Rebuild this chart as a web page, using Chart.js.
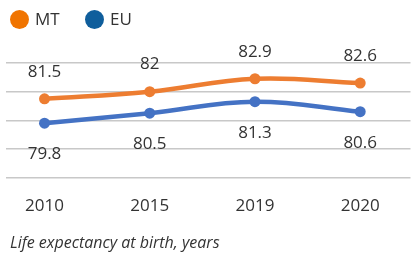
<!DOCTYPE html>
<html>
<head>
<meta charset="utf-8">
<script src="https://cdn.jsdelivr.net/npm/chart.js@4/dist/chart.umd.min.js"></script>
<style>
  body { margin: 0; background: #fff; font-family: "Open Sans", sans-serif; color: #333; }
  #wrap { position: relative; width: 416px; height: 260px; }
  .leg { position: absolute; top: 9px; font-size: 17px; line-height: 20px; display: flex; align-items: center; }
  .leg span.dot { width: 19px; height: 19px; border-radius: 50%; display: inline-block; margin-right: 6px; }
  #caption { position: absolute; left: 10px; top: 231px; font-size: 16px; font-style: italic; line-height: 22px; }
</style>
</head>
<body>
<div id="wrap">
  <canvas id="lifeChart"></canvas>
  <div class="leg" style="left:10px"><span class="dot" style="background:#f07400"></span>MT</div>
  <div class="leg" style="left:85px"><span class="dot" style="background:#0f5e9c"></span>EU</div>
  <div id="caption">Life expectancy at birth, years</div>
</div>
<script>
const years = ['2010', '2015', '2019', '2020'];
const mtValues = [81.5, 82, 82.9, 82.6];
const euValues = [79.8, 80.5, 81.3, 80.6];

const ctx = document.getElementById('lifeChart').getContext('2d');

// подписи значений над/под точками
const valueLabels = {
    id: 'valueLabels',
    afterDatasetsDraw(chart, args, opts) {
        const c = chart.ctx;
        c.save();
        c.font = '17px "Open Sans"';
        c.fillStyle = '#333';
        c.textAlign = 'center';
        c.textBaseline = 'middle';
        chart.data.datasets.forEach((ds, i) => {
            const meta = chart.getDatasetMeta(i);
            meta.data.forEach((pt, j) => {
                c.fillText(String(ds.data[j].y), pt.x, pt.y + opts.offsets[i]);
            });
        });
        c.restore();
    }
};

new Chart(ctx, {
    type: 'line',
    data: {
        datasets: [
            {
                label: 'MT',
                data: mtValues.map((v, i) => ({ x: i, y: v })),
                borderColor: '#ed7d31',
                backgroundColor: '#ed7d31',
                borderWidth: 4.5,
                pointRadius: 5.5,
                pointBorderWidth: 0,
                tension: 0.4
            },
            {
                label: 'EU',
                data: euValues.map((v, i) => ({ x: i, y: v })),
                borderColor: '#4472c4',
                backgroundColor: '#4472c4',
                borderWidth: 4.5,
                pointRadius: 5.5,
                pointBorderWidth: 0,
                tension: 0.4
            }
        ]
    },
    plugins: [valueLabels],
    options: {
        responsive: true,
        maintainAspectRatio: false,
        animation: false,
        layout: { padding: { top: 63, left: 6, right: 0, bottom: 26 } },
        plugins: {
            legend: { display: false },
            tooltip: { enabled: false },
            valueLabels: { offsets: [-27, 31] }
        },
        scales: {
            x: {
                type: 'linear',
                min: -0.366,
                max: 3.478,
                afterBuildTicks: axis => { axis.ticks = years.map((y, i) => ({ value: i })); },
                ticks: {
                    callback: v => years[v],
                    color: '#333',
                    font: { family: 'Open Sans', size: 17 },
                    padding: 18
                },
                grid: { display: false, drawTicks: false },
                border: { display: false }
            },
            y: {
                min: 76,
                max: 84,
                ticks: { display: false, stepSize: 2 },
                grid: { color: '#c8c8c8', lineWidth: 1.5, drawTicks: false },
                border: { display: false }
            }
        }
    }
});
</script>
</body>
</html>
